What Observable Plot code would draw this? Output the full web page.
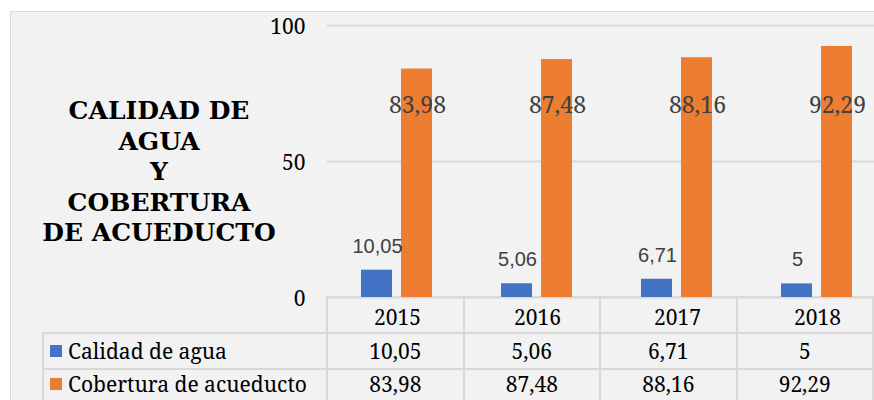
<!DOCTYPE html>
<html><head><meta charset="utf-8">
<script src="https://cdn.jsdelivr.net/npm/d3@7"></script>
<script src="https://cdn.jsdelivr.net/npm/@observablehq/plot@0.6"></script>
<style>
html,body{margin:0;padding:0;width:874px;height:400px;overflow:hidden;background:#fff;}
#panel{position:absolute;left:10px;top:11px;width:900px;height:420px;background:#f2f2f2;border:1px solid #d9d9d9;box-sizing:border-box;}
#title{position:absolute;left:30px;width:258px;top:96px;text-align:center;font:bold 25px/30.5px "DejaVu Serif","Noto Serif",serif;color:#000;}
#tbl{position:absolute;left:42px;top:296px;border-collapse:collapse;font:21px/21px "Noto Serif",serif;color:#000;table-layout:fixed;}
#tbl td{border:2px solid #d9d9d9;padding:0;text-align:center;white-space:nowrap;vertical-align:middle;}
#tbl tr{height:36px;}
#tbl tr.last td{padding-bottom:6px;}
#tbl td.lg{text-align:left;padding-left:6px;}
#tbl td.blank{border-top:none;border-left:none;}
.sw{display:inline-block;width:12px;height:12px;margin-right:6px;vertical-align:middle;position:relative;top:-2px;}
#chart{position:absolute;left:0;top:0;}
</style>
</head><body>
<div id="panel"></div>
<div id="title"></div>
<table id="tbl"></table>
<div id="chart"></div>
<script>
const years = ["2015", "2016", "2017", "2018"];
const calidad = [10.05, 5.06, 6.71, 5];
const cobertura = [83.98, 87.48, 88.16, 92.29];
const seriesNames = ["Calidad de agua", "Cobertura de acueducto"];
const seriesColors = ["#4472c4", "#ed7d31"];
const yTicks = [0, 50, 100];
const titleLines = ["CALIDAD DE", "AGUA", "Y", "COBERTURA", "DE ACUEDUCTO"];

const fmt = v => String(v).replace(".", ",");
const data = years.map((y, i) => ({year: y, calidad: calidad[i], cobertura: cobertura[i]}));

document.getElementById("title").innerHTML = titleLines.join("<br>");

// data table below the chart
const tbl = document.getElementById("tbl");
const colW = [285, 140, 140, 140, 140];
let html = "<colgroup>" + colW.map(w => `<col style="width:${w}px">`).join("") + "</colgroup>";
html += "<tr><td class='blank'></td>" + years.map(() => "<td></td>").join("") + "</tr>";
[calidad, cobertura].forEach((vals, s) => {
  html += `<tr${s === 1 ? " class='last'" : ""}><td class="lg"><span class="sw" style="background:${seriesColors[s]}"></span>${seriesNames[s]}</td>` +
    vals.map(v => `<td>${fmt(v)}</td>`).join("") + "</tr>";
});
tbl.innerHTML = html;

const serif = "'Noto Serif', serif";
const plot = Plot.plot({
  width: 900, height: 400,
  marginLeft: 327, marginRight: 13, marginTop: 25, marginBottom: 103,
  style: {background: "transparent", maxWidth: "none", color: "#000", fontFamily: serif, overflow: "visible"},
  x: {domain: years, padding: 0},
  y: {domain: [0, 100]},
  marks: [
    Plot.gridY(yTicks, {stroke: "#d9d9d9", strokeOpacity: 1, strokeWidth: 2}),
    Plot.barY(data, {x: "year", y: "calidad", fill: seriesColors[0], insetLeft: 34, insetRight: 75}),
    Plot.barY(data, {x: "year", y: "cobertura", fill: seriesColors[1], insetLeft: 74, insetRight: 35}),
    Plot.text(data, {x: "year", y: "calidad", text: d => fmt(d.calidad), dx: -20, dy: -24,
      fontFamily: "'Liberation Sans', Arial, sans-serif", fontSize: 20, fill: "#404040"}),
    Plot.text(data, {x: "year", frameAnchor: "top", dy: 71, dx: 20, text: d => fmt(d.cobertura),
      fontFamily: serif, fontSize: 23, fill: "#404040"}),
    Plot.axisY({ticks: yTicks, tickSize: 0, tickPadding: 22, dy: 2, fontSize: 21, fontFamily: serif, label: null}),
    Plot.axisX({tickSize: 0, tickPadding: 13, fontSize: 21, fontFamily: serif, label: null})
  ]
});
document.getElementById("chart").appendChild(plot);
</script>
</body></html>
